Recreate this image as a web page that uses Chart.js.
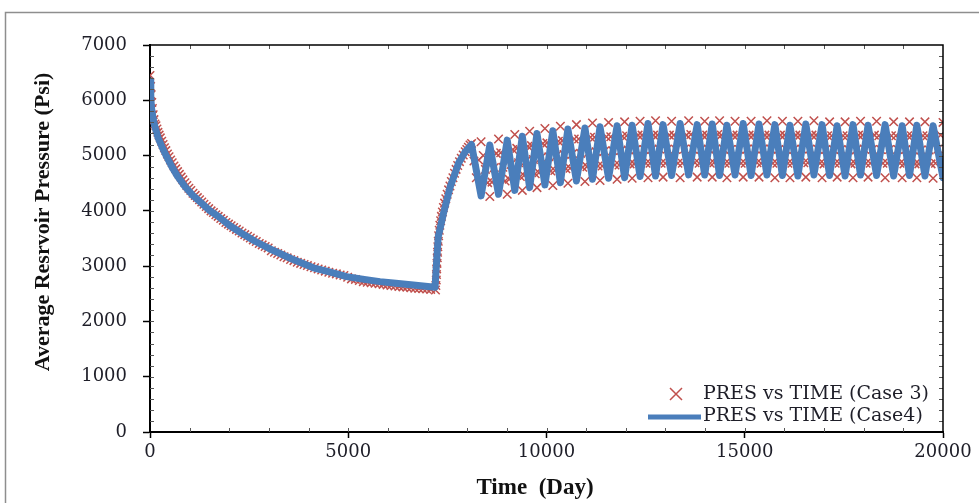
<!DOCTYPE html>
<html>
<head>
<meta charset="utf-8">
<script src="https://cdn.jsdelivr.net/npm/chart.js@4.4.1/dist/chart.umd.min.js"></script>
<style>
  html, body { margin: 0; padding: 0; background: #fff; }
  canvas { display: block; }
</style>
</head>
<body>
<canvas id="canvas" width="979" height="503"></canvas>
<script>
// PRES vs TIME (Case4) - solid line
var case4Time = [0, 20, 40, 80, 120, 200, 300, 420, 550, 700, 880, 1080, 1300, 1500, 1720, 2000, 2300, 2650, 3000, 3580,
  4120, 4500, 4960, 5400, 5800, 6200, 6640, 7190,
  7230, 7270, 7400, 7570, 7780, 7950,
  8110, 8350, 8570, 8790, 9010, 9200, 9390, 9575, 9760, 9960, 10160, 10350, 10540, 10755, 10970, 11160,
  11350, 11565, 11780, 11970, 12160, 12360, 12560, 12750, 12940, 13155, 13370, 13585, 13800, 13990,
  14180, 14365, 14550, 14755, 14960, 15160, 15360, 15560, 15760, 15950, 16140, 16340, 16540, 16745,
  16950, 17140, 17330, 17530, 17730, 17920, 18110, 18325, 18540, 18755, 18970, 19155, 19340, 19545,
  19750, 20000];
var case4Pres = [6350, 6050, 5850, 5660, 5530, 5330, 5160, 4980, 4800, 4620, 4440, 4280, 4140, 4010, 3900, 3740, 3600, 3450, 3320, 3130,
  2970, 2900, 2810, 2760, 2720, 2690, 2660, 2620,
  3100, 3530, 3950, 4430, 4860, 5070,
  5200, 4270, 5190, 4300, 5280, 4370, 5350, 4420, 5400, 4470, 5450, 4510, 5480, 4540, 5500, 4570,
  5520, 4590, 5540, 4600, 5550, 4620, 5580, 4630, 5560, 4640, 5580, 4650, 5560, 4650,
  5570, 4640, 5550, 4650, 5580, 4640, 5570, 4650, 5560, 4640, 5550, 4630, 5570, 4650,
  5560, 4640, 5540, 4630, 5560, 4650, 5550, 4640, 5560, 4630, 5540, 4640, 5550, 4630,
  5540, 4600];

// PRES vs TIME (Case 3) - cross markers
// depletion period
var case3DeclineTime = [0, 15, 30, 45, 60, 80, 100, 125, 150, 175, 200, 230, 260, 295, 330, 365, 400, 440, 480, 520,
  560, 605, 650, 695, 740, 785, 830, 880, 930, 980, 1030, 1085, 1140, 1195, 1250, 1305, 1360, 1420, 1480, 1540,
  1600, 1660, 1720, 1785, 1850, 1915, 1980, 2045, 2110, 2180, 2250, 2320, 2390, 2460, 2530, 2605, 2680, 2755, 2830, 2905,
  2980, 3060, 3140, 3220, 3300, 3380, 3460, 3545, 3630, 3715, 3800, 3885, 3970, 4060, 4150, 4240, 4330, 4420, 4510, 4605,
  4700, 4795, 4890, 4985, 5080, 5180, 5280, 5380, 5480, 5580, 5680, 5780, 5880, 5980, 6080, 6180, 6280, 6380, 6480, 6580,
  6680, 6780, 6880, 6980, 7080, 7200];
var case3DeclinePres = [6450, 6250, 6100, 5960, 5850, 5740, 5650, 5570, 5540, 5480, 5420, 5370, 5320, 5260, 5200, 5140, 5090, 5030, 4980, 4920,
  4870, 4810, 4760, 4710, 4660, 4610, 4560, 4510, 4460, 4410, 4370, 4320, 4280, 4240, 4200, 4160, 4120, 4080, 4040, 4000,
  3970, 3930, 3900, 3860, 3830, 3790, 3760, 3730, 3700, 3665, 3635, 3600, 3570, 3540, 3510, 3475, 3445, 3410, 3385, 3355,
  3330, 3280, 3250, 3230, 3200, 3170, 3150, 3120, 3100, 3070, 3050, 3030, 3010, 2990, 2970, 2950, 2930, 2910, 2890, 2870,
  2860, 2840, 2830, 2800, 2770, 2760, 2740, 2720, 2710, 2700, 2690, 2680, 2670, 2660, 2650, 2640, 2630, 2625, 2620, 2610,
  2600, 2595, 2590, 2585, 2580, 2570];
// injection start
var case3RiseTime = [7210, 7220, 7225, 7230, 7238, 7245, 7252, 7260, 7270, 7280, 7295, 7310, 7330, 7350, 7375, 7400, 7430,
  7460, 7495, 7530, 7565, 7600, 7640, 7680, 7720, 7760, 7805, 7850, 7900, 7950, 7990, 8030, 8070];
var case3RisePres = [2650, 2750, 2850, 2950, 3050, 3150, 3250, 3350, 3450, 3550, 3650, 3740, 3820, 3900, 3980, 4060, 4140,
  4220, 4300, 4380, 4450, 4530, 4600, 4680, 4750, 4820, 4890, 4950, 5010, 5070, 5110, 5150, 5190];
// cyclic injection
var case3CycleTime = [
  8110, 8170, 8230, 8290, 8350, 8405, 8460, 8515, 8570, 8625, 8680, 8735, 8790, 8845, 8900, 8955,
  9010, 9060, 9105, 9150, 9200, 9250, 9295, 9340, 9390, 9435, 9480, 9530, 9575, 9620, 9670, 9715,
  9760, 9810, 9860, 9910, 9960, 10010, 10060, 10110, 10160, 10210, 10255, 10300, 10350, 10400, 10445, 10490,
  10540, 10595, 10650, 10700, 10755, 10810, 10860, 10915, 10970, 11020, 11065, 11110, 11160, 11210, 11255, 11300,
  11350, 11405, 11460, 11510, 11565, 11620, 11670, 11725, 11780, 11830, 11875, 11920, 11970, 12020, 12065, 12110,
  12160, 12210, 12260, 12310, 12360, 12410, 12460, 12510, 12560, 12610, 12655, 12700, 12750, 12800, 12845, 12890,
  12940, 12995, 13050, 13100, 13155, 13210, 13260, 13315, 13370, 13425, 13480, 13530, 13585, 13640, 13690, 13745,
  13800, 13850, 13895, 13940, 13990, 14040, 14085, 14130, 14180, 14225, 14270, 14320, 14365, 14410, 14460, 14505,
  14550, 14600, 14650, 14705, 14755, 14805, 14860, 14910, 14960, 15010, 15060, 15110, 15160, 15210, 15260, 15310,
  15360, 15410, 15460, 15510, 15560, 15610, 15660, 15710, 15760, 15810, 15855, 15900, 15950, 16000, 16045, 16090,
  16140, 16190, 16240, 16290, 16340, 16390, 16440, 16490, 16540, 16590, 16645, 16695, 16745, 16795, 16850, 16900,
  16950, 17000, 17045, 17090, 17140, 17190, 17235, 17280, 17330, 17380, 17430, 17480, 17530, 17580, 17630, 17680,
  17730, 17780, 17825, 17870, 17920, 17970, 18015, 18060, 18110, 18165, 18220, 18270, 18325, 18380, 18430, 18485,
  18540, 18595, 18650, 18700, 18755, 18810, 18860, 18915, 18970, 19015, 19060, 19110, 19155, 19200, 19250, 19295,
  19340, 19390, 19445, 19495, 19545, 19595, 19650, 19700, 19750, 19810, 19875, 19940, 20000];
var case3CyclePres = [
  5220, 4900, 4600, 4920, 5250, 5000, 4750, 4510, 4260, 4520, 4780, 5040, 5300, 5050, 4790, 4540,
  4300, 4570, 4840, 5110, 5380, 5130, 4870, 4620, 4370, 4640, 4900, 5170, 5440, 5180, 4930, 4670,
  4420, 4690, 4960, 5220, 5490, 5230, 4980, 4720, 4460, 4730, 5000, 5260, 5530, 5270, 5020, 4760,
  4500, 4770, 5030, 5300, 5560, 5300, 5040, 4790, 4530, 4800, 5060, 5330, 5590, 5330, 5070, 4810,
  4550, 4810, 5080, 5340, 5600, 5340, 5090, 4830, 4570, 4830, 5090, 5350, 5610, 5360, 5100, 4850,
  4590, 4850, 5110, 5370, 5620, 5370, 5110, 4860, 4600, 4860, 5110, 5370, 5630, 5370, 5120, 4860,
  4610, 4860, 5120, 5370, 5620, 5370, 5110, 4860, 4600, 4860, 5120, 5370, 5630, 5380, 5120, 4870,
  4610, 4860, 5110, 5370, 5620, 5370, 5120, 4860, 4610, 4870, 5120, 5380, 5630, 5370, 5120, 4860,
  4600, 4860, 5110, 5370, 5620, 5370, 5110, 4860, 4610, 4860, 5120, 5370, 5620, 5370, 5120, 4870,
  4610, 4860, 5120, 5370, 5630, 5370, 5120, 4860, 4600, 4860, 5110, 5370, 5620, 5370, 5110, 4860,
  4600, 4860, 5110, 5370, 5620, 5370, 5120, 4870, 4610, 4870, 5120, 5370, 5630, 5370, 5110, 4860,
  4600, 4850, 5110, 5360, 5610, 5360, 5110, 4860, 4610, 4860, 5110, 5360, 5610, 5360, 5100, 4850,
  4600, 4860, 5110, 5370, 5620, 5370, 5120, 4860, 4610, 4860, 5110, 5370, 5620, 5360, 5110, 4860,
  4600, 4860, 5110, 5360, 5610, 5360, 5110, 4860, 4600, 4850, 5110, 5360, 5610, 5360, 5100, 4850,
  4600, 4850, 5100, 5360, 5610, 5360, 5100, 4850, 4590, 4860, 5120, 5370, 5600];

var xTicks = [0, 5000, 10000, 15000, 20000];
var yTicks = [0, 1000, 2000, 3000, 4000, 5000, 6000, 7000];

function toPoints(xs, ys) {
  return xs.map(function(t, i) { return { x: t, y: ys[i] }; });
}

var case3Points = toPoints(case3DeclineTime, case3DeclinePres)
  .concat(toPoints(case3RiseTime, case3RisePres))
  .concat(toPoints(case3CycleTime, case3CyclePres));

var RED = '#c0504d';
var BLUE = '#4a7ebb';

// grey page frame, minor ticks, top/right plot border, legend
var decorations = {
  id: 'decorations',
  beforeDraw: function(chart) {
    var ctx = chart.ctx;
    ctx.save();
    ctx.strokeStyle = '#8e8e8e';
    ctx.lineWidth = 1.5;
    ctx.strokeRect(5.5, 12.5, 1100, 600);
    ctx.restore();
  },
  afterDraw: function(chart) {
    var ctx = chart.ctx, a = chart.chartArea, x = chart.scales.x, y = chart.scales.y;
    ctx.save();
    ctx.strokeStyle = '#555';
    ctx.lineWidth = 1;
    ctx.beginPath();
    for (var v = 1000; v < 20000; v += 1000) {
      var px = Math.round(x.getPixelForValue(v)) + 0.5;
      ctx.moveTo(px, a.bottom); ctx.lineTo(px, a.bottom - 4);
      ctx.moveTo(px, a.top); ctx.lineTo(px, a.top + 4);
    }
    for (var w = 200; w < 7000; w += 200) {
      var py = Math.round(y.getPixelForValue(w)) + 0.5;
      ctx.moveTo(a.left, py); ctx.lineTo(a.left + 4, py);
      ctx.moveTo(a.right, py); ctx.lineTo(a.right - 4, py);
    }
    ctx.stroke();

    ctx.strokeStyle = '#000';
    ctx.lineWidth = 1.5;
    ctx.beginPath();
    ctx.moveTo(a.left, a.top); ctx.lineTo(a.right, a.top); ctx.lineTo(a.right, a.bottom);
    ctx.stroke();

    // legend
    var ds = chart.data.datasets;
    ctx.font = '19px "DejaVu Serif"';
    ctx.fillStyle = '#1e1e28';
    ctx.textBaseline = 'middle';
    ctx.textAlign = 'left';
    var y1 = 394, y2 = 416, tx = 703;
    ctx.strokeStyle = RED;
    ctx.lineWidth = 1.5;
    ctx.beginPath();
    ctx.moveTo(670, y1 - 6); ctx.lineTo(682, y1 + 6);
    ctx.moveTo(682, y1 - 6); ctx.lineTo(670, y1 + 6);
    ctx.stroke();
    ctx.fillText(ds[1].label, tx, y1);
    ctx.strokeStyle = BLUE;
    ctx.lineWidth = 5;
    ctx.beginPath();
    ctx.moveTo(648, y2 + 1); ctx.lineTo(701, y2 + 1);
    ctx.stroke();
    ctx.fillText(ds[0].label, tx, y2);
    ctx.restore();
  }
};

var ctx = document.getElementById('canvas').getContext('2d');
var chart = new Chart(ctx, {
  type: 'scatter',
  data: {
    datasets: [
      {
        label: 'PRES vs TIME (Case4)',
        data: toPoints(case4Time, case4Pres),
        showLine: true,
        borderColor: BLUE,
        backgroundColor: BLUE,
        borderWidth: 7,
        borderJoinStyle: 'round',
        borderCapStyle: 'round',
        pointRadius: 0,
        tension: 0,
        order: 0
      },
      {
        label: 'PRES vs TIME (Case 3)',
        data: case3Points,
        showLine: false,
        pointStyle: 'crossRot',
        pointRadius: 6,
        borderColor: RED,
        backgroundColor: RED,
        pointBorderWidth: 1.5,
        order: 1
      }
    ]
  },
  options: {
    responsive: false,
    animation: false,
    layout: { padding: { left: 0, top: 45, right: 36, bottom: 0 } },
    plugins: {
      legend: { display: false },
      tooltip: { enabled: false }
    },
    scales: {
      x: {
        type: 'linear',
        min: 0,
        max: 20000,
        afterFit: function(s) { s.height = 71; },
        afterBuildTicks: function(s) { s.ticks = xTicks.map(function(v) { return { value: v }; }); },
        grid: { drawOnChartArea: false, drawTicks: true, tickLength: 6, tickColor: '#000', tickWidth: 1.5 },
        border: { display: true, color: '#000', width: 2 },
        ticks: {
          padding: 4,
          color: '#1e1e28',
          font: { family: '"DejaVu Serif"', size: 18 },
          callback: function(v) { return String(v); }
        },
        title: {
          display: true,
          text: 'Time  (Day)    ',
          color: '#111',
          font: { family: '"Liberation Serif"', size: 23, weight: 'bold' },
          padding: { top: 0, bottom: 1 }
        }
      },
      y: {
        type: 'linear',
        min: 0,
        max: 7000,
        afterFit: function(s) { s.width = 150; },
        afterBuildTicks: function(s) { s.ticks = yTicks.map(function(v) { return { value: v }; }); },
        grid: { drawOnChartArea: false, drawTicks: true, tickLength: 7, tickColor: '#000', tickWidth: 1.5 },
        border: { display: true, color: '#000', width: 2 },
        ticks: {
          padding: 16,
          color: '#1e1e28',
          font: { family: '"DejaVu Serif"', size: 18 },
          callback: function(v) { return String(v); }
        },
        title: {
          display: true,
          text: '      Average Resrvoir Pressure (Psi)',
          color: '#111',
          font: { family: '"Liberation Serif"', size: 22, weight: 'bold' },
          padding: { top: 30, bottom: 0 }
        }
      }
    }
  },
  plugins: [decorations]
});
</script>
</body>
</html>
